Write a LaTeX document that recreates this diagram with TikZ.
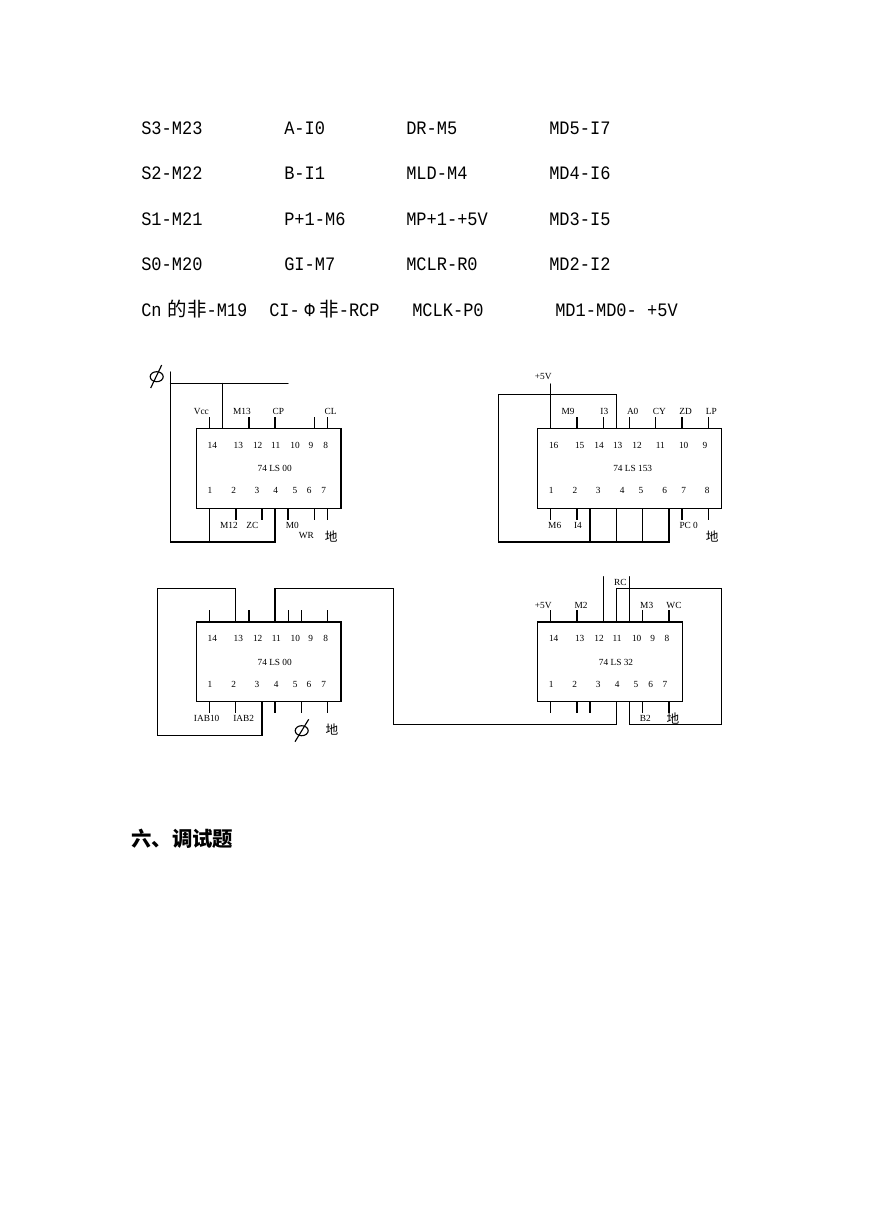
\documentclass[tikz,border=0pt]{standalone}
\usepackage{fontspec}
\setmainfont{Liberation Serif}
\newfontfamily\monof[FakeStretch=0.895]{Liberation Mono}
\newfontfamily\cjk{Noto Sans CJK SC}
\usetikzlibrary{fit}
\newcommand{\mnk}[1]{{\cjk\fontsize{14.6}{16}\selectfont #1}}
\tikzset{
  wire/.style={line width=0.85pt,line cap=round,line join=miter},
  pinline/.style={line width=0.8pt},
  chipbox/.style={draw,line width=0.8pt,inner sep=0pt,fit=#1},
  lab/.style={inner sep=0pt,text height=4.6pt,text depth=0pt,font=\fontsize{7}{8}\selectfont},
  gnd/.style={inner sep=0pt,font=\cjk\fontsize{9.5}{10}\selectfont},
  row/.style={inner sep=0pt,anchor=base west,font=\monof\fontsize{14.25}{16}\selectfont},
  heading/.style={inner sep=0pt,anchor=base west,font=\cjk\bfseries\fontsize{15.3}{17}\selectfont},
  phi/.style={line width=0.85pt},
}
\begin{document}
\begin{tikzpicture}[x=0.75pt,y=-0.75pt]
\useasboundingbox[fill=white] (0,0) rectangle (869,1228);
% ---- text rows
\foreach \n/\x/\y/\t in {
 a1/141/134/S3-M23, a2/284/134/A-I0, a3/406/134/DR-M5, a4/549/134/MD5-I7,
 b1/141/179/S2-M22, b2/284/179/B-I1, b3/406/179/MLD-M4, b4/549/179/MD4-I6,
 c1/141/225/S1-M21, c2/284/225/P+1-M6, c3/406/225/MP+1-+5V, c4/549/225/MD3-I5,
 d1/141/270/S0-M20, d2/284/270/GI-M7, d3/406/270/MCLR-R0, d4/549/270/MD2-I2,
 e3/412/316/MCLK-P0}
 \node[row] (r\n) at (\x,\y) {\t};
\node[row] (re1) at (141,316) {Cn\hspace{4.5pt}\mnk{的非}-M19};
\node[row] (re2) at (269,316) {CI-\makebox[14.6pt][c]{Φ}\mnk{非}-RCP};
\node[row] (re4) at (555,316) {MD1-MD0- +5V};
\node[heading] (title) at (131,846) {六、调试题};
% ---- chip bodies
\coordinate (c1a) at (196.5,428.5); \coordinate (c1b) at (341,508.5);
\coordinate (c2a) at (537.7,428.5); \coordinate (c2b) at (721.3,508.5);
\coordinate (c3a) at (196.5,622);   \coordinate (c3b) at (341,701.7);
\coordinate (c4a) at (537.7,622);   \coordinate (c4b) at (682.3,701.7);
\node[chipbox={(c1a)(c1b)}] (chipA) {};
\node[chipbox={(c2a)(c2b)}] (chipB) {};
\node[chipbox={(c3a)(c3b)}] (chipC) {};
\node[chipbox={(c4a)(c4b)}] (chipD) {};
% ---- short pins
\foreach \x in {209.7,249,275,314.3,327.7} \draw[pinline] (chipA.north -| \x,0) -- ++(0,-11);
\foreach \x in {236,262,288,314.3,327.7} \draw[pinline] (chipA.south -| \x,0) -- ++(0,11);
\foreach \x in {577,603.3,629.3,655.7,682,708.3} \draw[pinline] (chipB.north -| \x,0) -- ++(0,-11);
\foreach \x in {550.7,577,682,708.3} \draw[pinline] (chipB.south -| \x,0) -- ++(0,11);
\foreach \x in {209.3,249,288.3,301.3,327.7} \draw[pinline] (chipC.north -| \x,0) -- ++(0,-11);
\foreach \x in {209.3,235.7,275,301.3,327.7} \draw[pinline] (chipC.south -| \x,0) -- ++(0,11);
\foreach \x in {550.7,577,642.7,669} \draw[pinline] (chipD.north -| \x,0) -- ++(0,-11);
\foreach \x in {550.7,577,590,642.7,669} \draw[pinline] (chipD.south -| \x,0) -- ++(0,11);
% ---- chip A wiring
\coordinate (phiAtop) at (170.5,372);
\coordinate (phiAbot) at (170.5,542);
\coordinate (busAend) at (288,383.5);
\coordinate (busAjoin) at (222.7,383.5);
\draw[wire] (phiAtop) -- (phiAbot) -- (phiAbot -| 275,0) -- (chipA.south -| 275,0);
\draw[wire] (phiAtop |- busAend) -- (busAend);
\draw[wire] (chipA.north -| busAjoin) -- (busAjoin);
\draw[wire] (chipA.south -| 209.7,0) -- (phiAbot -| 209.7,0);
% ---- chip B wiring
\coordinate (vccB) at (550.7,384);
\coordinate (loopBtl) at (498.3,394.3);
\coordinate (loopBbl) at (498.3,542);
\draw[wire] (chipB.north -| vccB) -- (vccB);
\draw[wire] (chipB.north -| 616.3,0) -- (loopBtl -| 616.3,0) -- (loopBtl) -- (loopBbl) -- (loopBbl -| 669,0) -- (chipB.south -| 669,0);
\foreach \x in {590,616.3,642.7} \draw[wire] (chipB.south -| \x,0) -- (loopBbl -| \x,0);
% ---- chip C wiring
\coordinate (loopCtl) at (157.3,588.3);
\coordinate (loopCbl) at (157.3,735.7);
\coordinate (longTop) at (393.3,588.3);
\coordinate (longBot) at (393.3,724.3);
\draw[wire] (chipC.north -| 235.7,0) -- (loopCtl -| 235.7,0) -- (loopCtl) -- (loopCbl) -- (loopCbl -| 262,0) -- (chipC.south -| 262,0);
\draw[wire] (chipC.north -| 275,0) -- (longTop -| 275,0) -- (longTop) -- (longBot) -- (longBot -| 616.3,0) -- (chipD.south -| 616.3,0);
% ---- chip D wiring
\coordinate (loopDtr) at (721.7,588.3);
\coordinate (loopDbr) at (721.7,724.3);
\draw[wire] (chipD.north -| 616.3,0) -- (loopDtr -| 616.3,0) -- (loopDtr) -- (loopDbr) -- (loopDbr -| 629.7,0) -- (chipD.south -| 629.7,0);
\foreach \x in {603.3,629.3} \draw[wire] (chipD.north -| \x,0) -- (\x,576.7);
% ---- phi symbols
\draw[phi] (156.7,376.7) ellipse [x radius=6.5,y radius=5];
\draw[phi] (150.7,388) -- (161.7,365);
\draw[phi] (301.7,730.7) ellipse [x radius=6.5,y radius=5];
\draw[phi] (295,741.7) -- (308.7,719.3);
% ---- labels
\foreach \n/\x/\y/\t in {
 la1/201.3/411/Vcc, la2/242/411/M13, la3/278.3/411/CP, la4/330.7/411/CL,
 la5/229/525/M12, la6/252.3/525/ZC, la7/292.3/525/M0, la8/306.3/535.3/WR,
 la9/274.7/468.7/74 LS 00,
 lb1/543.3/376.7/+5V, lb2/568/411/M9, lb3/604.3/411/I3, lb4/632.7/411/A0, lb5/659.3/411/CY, lb6/685.7/411/ZD, lb7/711.3/411/LP,
 lb8/554.7/525/M6, lb9/578/525/I4, lb10/688.7/525/PC 0, lb11/632.7/468.7/74 LS 153,
 lc1/206.7/718/IAB10, lc2/243.7/718/IAB2, lc3/274.7/662/74 LS 00,
 ld1/620.3/582/RC, ld2/543.3/605/+5V, ld3/581/605/M2, ld4/646.7/605/M3, ld5/674/605/WC, ld6/645.3/718/B2, ld7/616/662/74 LS 32}
 \node[lab] (\n) at (\x,\y) {\t};
\node[gnd] (ga) at (331.3,536.7) {地};
\node[gnd] (gb) at (712.3,536.7) {地};
\node[gnd] (gc) at (332,729.3) {地};
\node[gnd] (gd) at (673,718.3) {地};
% ---- pin numbers
\foreach \t/\x in {14/212.3,13/238.3,12/257.7,11/275.7,10/295,9/311,8/325.7} \node[lab] (na\t) at (\x,445.7) {\t};
\foreach \t/\x in {1/210,2/233.7,3/257,4/275.7,5/295,6/309.3,7/323.7} \node[lab] (na\t) at (\x,490.7) {\t};
\foreach \t/\x in {16/553.7,15/579.7,14/599,13/617.7,12/637,11/660.3,10/683.7,9/705} \node[lab] (nb\t) at (\x,445.7) {\t};
\foreach \t/\x in {1/551.3,2/575,3/598.3,4/622.3,5/641,6/664.7,7/683.7,8/707.3} \node[lab] (nb\t) at (\x,490.7) {\t};
\foreach \t/\x in {14/212.3,13/238.3,12/257.7,11/276.3,10/295.3,9/310.7,8/325.7} \node[lab] (nc\t) at (\x,638.7) {\t};
\foreach \t/\x in {1/210,2/233.7,3/257,4/276.3,5/295.3,6/309,7/323.7} \node[lab] (nc\t) at (\x,684.7) {\t};
\foreach \t/\x in {14/553.7,13/579.7,12/599,11/617,10/636.7,9/652.7,8/667} \node[lab] (nd\t) at (\x,638.7) {\t};
\foreach \t/\x in {1/551.3,2/574.7,3/598.3,4/617.3,5/636,6/650.7,7/665} \node[lab] (nd\t) at (\x,684.7) {\t};
\end{tikzpicture}
\end{document}
